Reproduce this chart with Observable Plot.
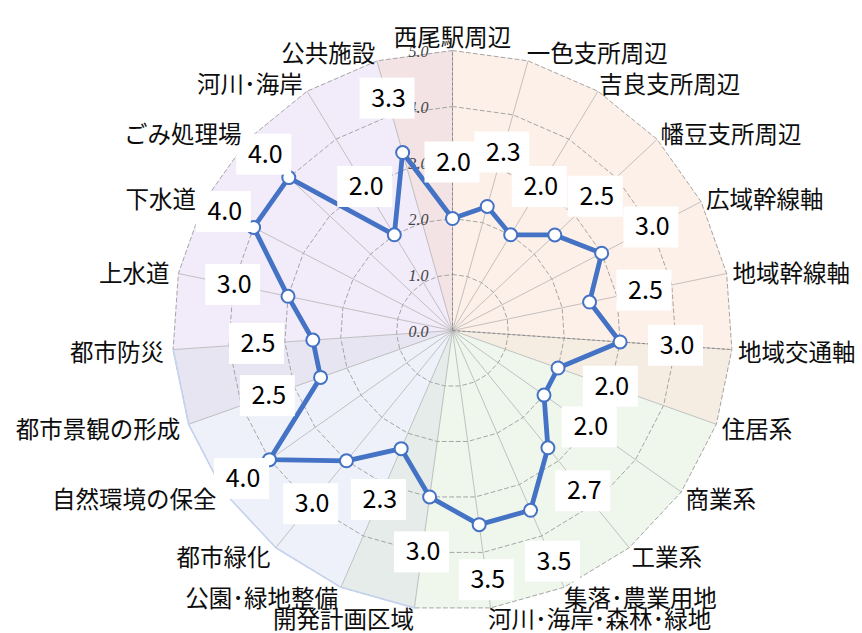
<!DOCTYPE html>
<html>
<head>
<meta charset="utf-8">
<script src="https://cdn.jsdelivr.net/npm/d3@7"></script>
<script src="https://cdn.jsdelivr.net/npm/@observablehq/plot@0.6"></script>
<style>
  html, body { margin: 0; padding: 0; background: #fff; }
  #chart svg { display: block; }
  g[aria-label="value-labels"] text { letter-spacing: 3px; }
  g[aria-label="tick-labels"] text { letter-spacing: 1px; }
</style>
</head>
<body>
<div id="chart"></div>
<script>
// ---- data ----
const categories = ["西尾駅周辺","一色支所周辺","吉良支所周辺","幡豆支所周辺","広域幹線軸","地域幹線軸","地域交通軸",
  "住居系","商業系","工業系","集落･農業用地","河川･海岸･森林･緑地",
  "開発計画区域","公園･緑地整備","都市緑化","自然環境の保全","都市景観の形成",
  "都市防災","上水道","下水道","ごみ処理場","河川･海岸","公共施設"];
const values = [2.0,2.3,2.0,2.5,3.0,2.5,3.0,2.0,2.0,2.7,3.5,3.5,3.0,2.3,3.0,4.0,2.5,2.5,3.0,4.0,4.0,2.0,3.3];
const ticks = [0,1,2,3,4,5];
// background wedge group for the wedge between spoke k and spoke k+1
const wedgeGroups = ["peach","peach","peach","peach","peach","peach","tan",
  "green","green","green","green","green","graygreen",
  "blue","blue","blue","lavgray",
  "lavender","lavender","lavender","lavender","lavender","pink"];

// ---- styles / layout ----
const groupColors = {pink:"#f3e3e4", peach:"#fdf0e8", tan:"#f5ede2", green:"#eff6ec",
  graygreen:"#e6ece9", blue:"#eef1f9", lavgray:"#e6e5f1", lavender:"#f2ebf9"};
const W = 862, H = 633, cx = 452, cy = 330, unit = 56, rMax = 5;
const n = categories.length;
const ang = k => 2 * Math.PI * k / n;
const px = (r, k) => r * Math.sin(ang(k));
const py = (r, k) => r * Math.cos(ang(k));

const wedgePts = wedgeGroups.flatMap((g, k) =>
  [[0,0],[px(rMax,k),py(rMax,k)],[px(rMax,k+1),py(rMax,k+1)]]
    .map(([x,y]) => ({x, y, k, fill: groupColors[g]})));
const ringPts = ticks.filter(t => t > 0).flatMap(t => categories.map((c,k) => ({x: px(t,k), y: py(t,k), t})));
const spokes = categories.map((c,k) => ({k}));
const blueEdge = [12,13,14,15,16,17].map(k => ({x: px(rMax,k), y: py(rMax,k)}));
const seriesPts = values.map((v,k) => ({x: px(v,k), y: py(v,k), v, k}));
const labelPts = values.map((v,k) => {
  const r = Math.min(v + 1, 4.6);
  return {x: px(r,k), y: py(r,k), text: v.toFixed(1)};
});
const bw = 27.5 / unit, bh = 20.5 / unit;
const catPts = categories.map((c,k) => ({x: px(5.18,k), y: py(5.18,k), c, k}));

const txt = {fontFamily: "'Noto Sans CJK JP', sans-serif", fontSize: 23.5, fill: "#0d0d0d"};

const chart = Plot.plot({
  width: W, height: H, margin: 0,
  x: {domain: [-cx/unit, (W-cx)/unit], range: [0, W], axis: null},
  y: {domain: [-(H-cy)/unit, cy/unit], range: [H, 0], axis: null},
  marks: [
    Plot.line(wedgePts, {x: "x", y: "y", z: "k", fill: "fill", stroke: "fill", strokeWidth: 0.6, curve: "linear-closed"}),
    Plot.line(ringPts, {x: "x", y: "y", z: "t", curve: "linear-closed", stroke: "#9c9c9c", strokeWidth: 0.9, strokeDasharray: "4,3"}),
    Plot.link(spokes, {x1: 0, y1: 0, x2: d => px(rMax,d.k), y2: d => py(rMax,d.k), stroke: "#b4b4b4", strokeWidth: 0.8}),
    Plot.link(spokes.filter(d => d.k === 0 || d.k === 6), {x1: 0, y1: 0, x2: d => px(rMax,d.k), y2: d => py(rMax,d.k), stroke: "#8a8a8a", strokeWidth: 1, strokeDasharray: "3,2"}),
    Plot.line(blueEdge, {x: "x", y: "y", stroke: "#c6d3ee", strokeWidth: 1.6}),
    Plot.text(ticks, {x: 0, y: d => d, text: d => d.toFixed(1), dx: -24, dy: 1, textAnchor: "end",
      fontFamily: "'Liberation Serif', serif", fontStyle: "italic", fontSize: 16, fill: "#444", ariaLabel: "tick-labels"}),
    Plot.line(seriesPts, {x: "x", y: "y", curve: "linear-closed", stroke: "#4472c4", strokeWidth: 4.8, strokeLinejoin: "round"}),
    Plot.dot(seriesPts, {x: "x", y: "y", r: 6.5, fill: "white", stroke: "#4472c4", strokeWidth: 2}),
    Plot.rect(labelPts, {x1: d => d.x - bw, x2: d => d.x + bw, y1: d => d.y - bh, y2: d => d.y + bh, fill: "white"}),
    Plot.text(labelPts, {x: "x", y: "y", text: "text", dx: 1, fontFamily: "'Noto Sans CJK JP', sans-serif", fontSize: 25, fill: "#000", ariaLabel: "value-labels"}),
    Plot.text(catPts.filter(d => d.k === 0), {x: "x", y: "y", text: "c", textAnchor: "middle", dy: -2, ...txt}),
    Plot.text(catPts.filter(d => d.k >= 1 && d.k <= 11), {x: "x", y: "y", text: "c", textAnchor: "start", dx: -4, dy: 3, ...txt}),
    Plot.text(catPts.filter(d => d.k >= 12), {x: "x", y: "y", text: "c", textAnchor: "end", dx: 1, dy: 3, ...txt})
  ]
});
document.getElementById("chart").appendChild(chart);
</script>
</body>
</html>
